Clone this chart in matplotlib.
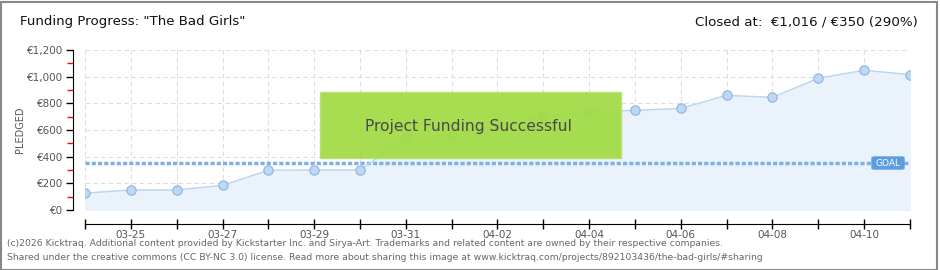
import numpy as np
import matplotlib.pyplot as plt
from matplotlib.patches import Rectangle, FancyBboxPatch
from matplotlib.ticker import MultipleLocator, FuncFormatter

# Data
dates = ["03-24", "03-25", "03-26", "03-27", "03-28", "03-29", "03-30", "03-31",
         "04-01", "04-02", "04-03", "04-04", "04-05", "04-06", "04-07", "04-08",
         "04-09", "04-10", "04-11"]
pledged = [127, 150, 150, 185, 298, 300, 300, 545, 557, 640, 705, 735, 748, 762,
           860, 845, 988, 1048, 1016]
goal = 350
tick_labels = ["03-25", "03-27", "03-29", "03-31", "04-02", "04-04", "04-06", "04-08", "04-10"]

W, H = 940, 270
fig = plt.figure(figsize=(W / 100, H / 100), dpi=100)
fig.patch.set_facecolor("white")

# outer frame
fig.add_artist(Rectangle((0.5 / W, 0.5 / H), 1 - 4 / W, 1 - 2.5 / H, transform=fig.transFigure,
                         fill=False, edgecolor="#888888", linewidth=1.5))

ax = fig.add_axes([85 / W, (H - 210) / H, 825 / W, 160 / H])
x = np.arange(len(dates))

ax.fill_between(x, pledged, 0, color="#eaf2fb", zorder=1)
ax.plot(x, pledged, color="#b9d5f0", linewidth=1, zorder=3)
ax.scatter(x, pledged, s=45, color="#bcd8f5", edgecolor="#8fb3d9", linewidth=0.8, zorder=4)
ax.axhline(goal, color="#7fb0e5", linewidth=2.5, linestyle=(0, (1.2, 0.6)), zorder=2)

ax.set_xlim(0, len(dates) - 1)
ax.set_ylim(0, 1200)
ax.set_xticks(x)
ax.set_xticklabels([d if d in tick_labels else "" for d in dates])
ax.yaxis.set_major_locator(MultipleLocator(200))
ax.yaxis.set_minor_locator(MultipleLocator(100))
ax.yaxis.set_major_formatter(FuncFormatter(lambda v, p: "€{:,.0f}".format(v)))
ax.grid(True, which="major", color="#dddddd", linestyle=(0, (4, 3)), linewidth=0.8)
ax.set_axisbelow(True)

for s in ["top", "right"]:
    ax.spines[s].set_visible(False)
ax.spines["left"].set_position(("outward", 9))
ax.spines["bottom"].set_position(("outward", 10))
ax.spines["left"].set_color("black")
ax.spines["bottom"].set_color("black")
ax.tick_params(axis="y", which="major", length=5, width=1, colors="black", labelcolor="#555555",
               labelsize=7.5, pad=2)
ax.tick_params(axis="y", which="minor", length=4, width=1, color="red")
ax.tick_params(axis="x", length=7, width=1, direction="inout", labelcolor="#555555",
               labelsize=7.5, pad=1)
ax.set_ylabel("PLEDGED", fontsize=7, color="#555555")
ax.yaxis.set_label_coords(-0.073, 0.5)

# success box
fig.add_artist(Rectangle((320 / W, (H - 158) / H), 301 / W, 66 / H, transform=fig.transFigure,
                         facecolor="#a3db47", edgecolor="#b5e26a", linewidth=1, alpha=0.95, zorder=5))
fig.text(468 / W, (H - 126) / H, "Project Funding Successful", ha="center", va="center",
         fontsize=11.2, color="#4a4a4a", zorder=6)

# goal label
fig.add_artist(FancyBboxPatch((872 / W, (H - 169) / H), 32 / W, 12 / H,
                              boxstyle="round,pad=0.0,rounding_size=0.003",
                              transform=fig.transFigure, facecolor="#5b9ee0",
                              edgecolor="#5b9ee0", zorder=6))
fig.text(888 / W, (H - 163) / H, "GOAL", ha="center", va="center", fontsize=6.5,
         color="white", zorder=7)

# titles
fig.text(20 / W, (H - 22) / H, 'Funding Progress: "The Bad Girls"', fontsize=9.6,
         color="#111111", va="center")
fig.text(918 / W, (H - 22) / H, "Closed at:  €1,016 / €350 (290%)", fontsize=9.6,
         color="#111111", va="center", ha="right")

# footer
fig.text(7 / W, (H - 243) / H, "(c)2026 Kicktraq. Additional content provided by Kickstarter Inc. and Sirya-Art. "
         "Trademarks and related content are owned by their respective companies.",
         fontsize=6.65, color="#666666", va="center")
fig.text(7 / W, (H - 258) / H, "Shared under the creative commons (CC BY-NC 3.0) license. Read more about "
         "sharing this image at www.kicktraq.com/projects/892103436/the-bad-girls/#sharing",
         fontsize=6.65, color="#666666", va="center")

fig.savefig("out.png", dpi=100)
